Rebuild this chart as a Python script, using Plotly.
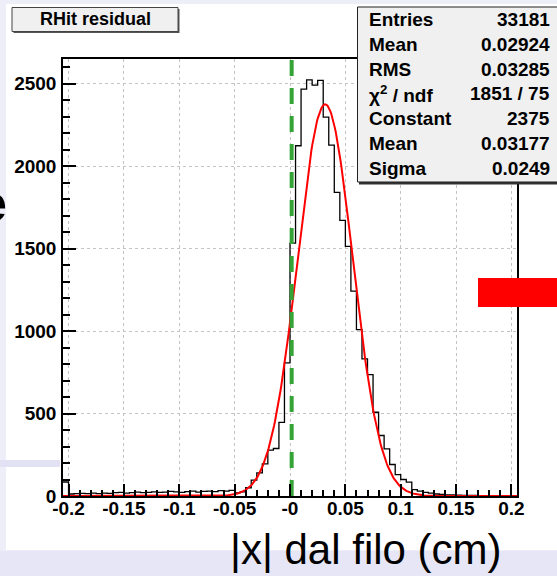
import numpy as np
import plotly.graph_objects as go

# ---------------- data ----------------
HIST_LOW = -0.205
HIST_HIGH = 0.205
N_BINS = 82
COUNTS = [85,
          12, 14, 16, 15, 18, 14, 17, 16, 20, 22,
          18, 21, 24, 20, 22, 25, 22, 24, 28, 25,
          22, 26, 30, 24, 28, 30, 26, 32, 30, 34,
          19, 25, 50, 96, 140, 195, 278, 288, 447, 807,
          1534, 2124, 2468, 2524, 2492, 2520, 2298, 2128, 1841, 1671,
          1514, 1243, 1009, 831, 736, 508, 367, 286, 191, 130,
          100, 84, 39, 29, 22, 18, 12, 10,
          7, 6, 5, 4, 3, 3, 2, 2, 2, 1, 1, 1, 1]

FIT_CONSTANT = 2375
FIT_MEAN = 0.03177
FIT_SIGMA = 0.0249
CUT_X = 0.0015

X_TICKS = [-0.2, -0.15, -0.1, -0.05, 0.0, 0.05, 0.1, 0.15, 0.2]
X_TICK_LABELS = ["-0.2", "-0.15", "-0.1", "-0.05", "-0", "0.05", "0.1", "0.15", "0.2"]
Y_TICKS = [0, 500, 1000, 1500, 2000, 2500]
Y_TICK_LABELS = ["0", "500", "1000", "1500", "2000", "2500"]

TITLE = "RHit residual"
X_TITLE = "|x| dal filo (cm)"
STAT_LABELS = ["Entries", "Mean", "RMS", "χ<sup>2</sup> / ndf", "Constant", "Mean", "Sigma"]
STAT_VALUES = ["33181", "0.02924", "0.03285", "1851 / 75", "2375", "0.03177", "0.0249"]

# ---------------- layout geometry ----------------
W, H = 557, 576
L, R, T, B = 63, 40, 59, 80
PW = W - L - R
PH = H - T - B
FONT = "Liberation Sans"


def px(x):
    return (x - L) / PW


def py(y):
    return (H - B - y) / PH


edges = np.linspace(HIST_LOW, HIST_HIGH, N_BINS + 1)
counts = np.array(COUNTS, dtype=float)
y_max = 1.05 * counts.max()

fig = go.Figure()

# histogram outline
fig.add_trace(go.Scatter(
    x=edges, y=np.append(counts, counts[-1]),
    mode="lines", line=dict(color="black", width=1.3, shape="hv"),
    showlegend=False, hoverinfo="skip"))

# gaussian fit defined by the fit parameters printed in the stats box
xf = np.linspace(HIST_LOW, HIST_HIGH, 500)
yf = FIT_CONSTANT * np.exp(-0.5 * ((xf - FIT_MEAN) / FIT_SIGMA) ** 2)
fig.add_trace(go.Scatter(
    x=xf, y=yf, mode="lines", line=dict(color="#ff0000", width=2),
    showlegend=False, hoverinfo="skip"))

# green dashed cut line
fig.add_trace(go.Scatter(
    x=[CUT_X, CUT_X], y=[0, y_max], mode="lines",
    line=dict(color="#36a336", width=4, dash="16px,12px"),
    showlegend=False, hoverinfo="skip"))

shapes = []
# slide background decorations
shapes.append(dict(type="rect", xref="paper", yref="paper", layer="below",
                   x0=px(6), x1=px(W + 5), y0=py(550), y1=py(4),
                   fillcolor="white", line=dict(width=0)))
shapes.append(dict(type="rect", xref="paper", yref="paper", layer="below",
                   x0=px(0), x1=px(W + 5), y0=py(H + 5), y1=py(551),
                   fillcolor="#e6e6f6", line=dict(width=0)))
shapes.append(dict(type="rect", xref="paper", yref="paper", layer="below",
                   x0=px(0), x1=px(60), y0=py(467), y1=py(460),
                   fillcolor="#e2e2f4", line=dict(width=0)))
# red slide rectangle
shapes.append(dict(type="rect", xref="paper", yref="paper", layer="above",
                   x0=px(478), x1=px(W + 5), y0=py(307), y1=py(278),
                   fillcolor="#ff0000", line=dict(width=0)))
# title box (shadow + box)
shapes.append(dict(type="rect", xref="paper", yref="paper", layer="above",
                   x0=px(13.5), x1=px(179.5), y0=py(33), y1=py(9),
                   fillcolor="#555555", line=dict(width=0)))
shapes.append(dict(type="rect", xref="paper", yref="paper", layer="above",
                   x0=px(12), x1=px(178), y0=py(31.5), y1=py(7.5),
                   fillcolor="#f0f0f0", line=dict(color="#444444", width=1)))
# stats box (shadow + box)
shapes.append(dict(type="rect", xref="paper", yref="paper", layer="above",
                   x0=px(359), x1=px(W + 10), y0=py(184.5), y1=py(9),
                   fillcolor="#333333", line=dict(width=0)))
shapes.append(dict(type="rect", xref="paper", yref="paper", layer="above",
                   x0=px(357.5), x1=px(W + 10), y0=py(182), y1=py(7),
                   fillcolor="#f0f0f0", line=dict(color="#222222", width=1)))

annotations = []
annotations.append(dict(xref="paper", yref="paper", x=px(95), y=py(19.5),
                        text=TITLE, showarrow=False, xanchor="center", yanchor="middle",
                        font=dict(family=FONT, size=18, color="black", weight="bold")))
for i, (lab, val) in enumerate(zip(STAT_LABELS, STAT_VALUES)):
    yc = 19.5 + 24.8 * i
    annotations.append(dict(xref="paper", yref="paper", x=px(367), y=py(yc),
                            text=lab, showarrow=False, xanchor="left", yanchor="middle",
                            font=dict(family=FONT, size=19, color="black", weight="bold")))
    annotations.append(dict(xref="paper", yref="paper", x=px(552), y=py(yc),
                            text=val, showarrow=False, xanchor="right", yanchor="middle",
                            font=dict(family=FONT, size=19, color="black", weight="bold")))
annotations.append(dict(xref="paper", yref="paper", x=px(365.5), y=py(549),
                        text=X_TITLE, showarrow=False, xanchor="center", yanchor="middle",
                        font=dict(family=FONT, size=42, color="black")))
annotations.append(dict(xref="paper", yref="paper", x=px(9), y=py(203),
                        text="e", showarrow=False, xanchor="right", yanchor="middle",
                        font=dict(family=FONT, size=52, color="black", weight="bold")))

fig.update_layout(
    width=W, height=H,
    margin=dict(l=L, r=R, t=T, b=B, pad=0),
    paper_bgcolor="#eeeef9",
    plot_bgcolor="white",
    shapes=shapes,
    annotations=annotations,
    showlegend=False,
)

tickfont = dict(family=FONT, size=19, color="black", weight="bold")
fig.update_xaxes(
    range=[HIST_LOW, HIST_HIGH], tickvals=X_TICKS, ticktext=X_TICK_LABELS,
    ticks="inside", ticklen=12, tickwidth=1.5, tickcolor="black",
    minor=dict(ticks="inside", ticklen=6, tickwidth=1.5, tickcolor="black",
               dtick=0.01, tick0=0, showgrid=False),
    showline=True, linecolor="black", linewidth=1.5, mirror=True,
    showgrid=True, gridcolor="#c4c4c4", gridwidth=1, griddash="dot",
    zeroline=False, tickfont=tickfont, ticklabelstandoff=-6,
)
fig.update_yaxes(
    range=[0, y_max], tickvals=Y_TICKS, ticktext=Y_TICK_LABELS,
    ticks="inside", ticklen=13, tickwidth=1.5, tickcolor="black",
    minor=dict(ticks="inside", ticklen=7, tickwidth=1.5, tickcolor="black",
               dtick=100, tick0=0, showgrid=False),
    showline=True, linecolor="black", linewidth=1.5, mirror=True,
    showgrid=True, gridcolor="#c4c4c4", gridwidth=1, griddash="dot",
    zeroline=False, tickfont=tickfont, ticklabelstandoff=1,
)

fig.write_html("out.html")
